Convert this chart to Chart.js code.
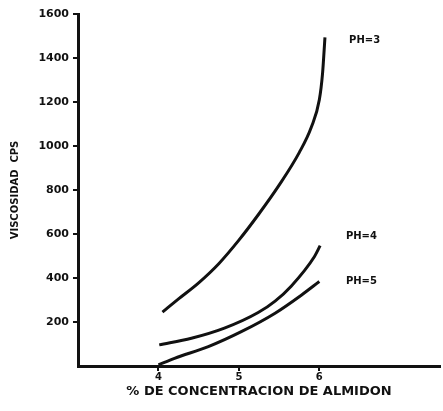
<!DOCTYPE html>
<html>
<head>
<meta charset="utf-8">
<script src="https://cdn.jsdelivr.net/npm/chart.js@4"></script>
<style>
  html, body { margin: 0; padding: 0; background: #fff; }
  #wrap { width: 443px; height: 411px; }
</style>
</head>
<body>
<div id="wrap"><canvas id="chart"></canvas></div>
<script>
// curve readings (% almidon vs viscosidad cps)
const ph3X = [4.05, 4.25, 4.5, 4.75, 5.0, 5.25, 5.5, 5.75, 5.9, 6.0, 6.04, 6.07];
const ph3Y = [245, 305, 378, 465, 572, 692, 822, 970, 1085, 1210, 1330, 1494];
const ph4X = [4.01, 4.41, 4.82, 5.24, 5.45, 5.65, 5.94, 6.01];
const ph4Y = [96, 126, 172, 243, 295, 363, 498, 547];
const ph5X = [4.0, 4.2, 4.62, 5.03, 5.45, 5.78, 6.0];
const ph5Y = [5, 35, 88, 156, 240, 323, 384];

const xTicks = [4, 5, 6];
const yTicks = [200, 400, 600, 800, 1000, 1200, 1400, 1600];

const curveNames = ['PH=3', 'PH=4', 'PH=5'];
const nameX = [6.37, 6.33, 6.33];
const nameY = [1480, 588, 383];

const toPoints = (xs, ys) => xs.map((x, i) => ({ x: x, y: ys[i] }));

const boldFont = 'DejaVu Sans';

// writes PH=... next to each curve
const curveLabels = {
    id: 'curveLabels',
    afterDatasetsDraw(chart) {
        const { ctx, scales } = chart;
        ctx.save();
        ctx.fillStyle = '#111';
        ctx.font = 'bold 10px "' + boldFont + '"';
        ctx.textBaseline = 'middle';
        ctx.textAlign = 'left';
        curveNames.forEach((name, i) => {
            ctx.fillText(name, scales.x.getPixelForValue(nameX[i]), scales.y.getPixelForValue(nameY[i]));
        });
        ctx.restore();
    }
};

const lineStyle = {
    borderColor: '#111',
    borderWidth: 3,
    pointRadius: 0,
    cubicInterpolationMode: 'monotone',
    fill: false
};

new Chart(document.getElementById('chart'), {
    type: 'line',
    data: {
        datasets: [
            { label: curveNames[0], data: toPoints(ph3X, ph3Y), ...lineStyle },
            { label: curveNames[1], data: toPoints(ph4X, ph4Y), ...lineStyle },
            { label: curveNames[2], data: toPoints(ph5X, ph5Y), ...lineStyle }
        ]
    },
    options: {
        responsive: true,
        maintainAspectRatio: false,
        animation: false,
        layout: { padding: { top: 14, right: 3, left: 0, bottom: 0 } },
        plugins: {
            legend: { display: false },
            tooltip: { enabled: false }
        },
        scales: {
            x: {
                type: 'linear',
                min: 3,
                max: 7.5,
                afterBuildTicks: (scale) => { scale.ticks = xTicks.map(v => ({ value: v })); },
                afterFit: (scale) => { scale.height = 45; },
                border: { display: true, color: '#111', width: 3 },
                grid: { drawOnChartArea: false, color: '#111', tickColor: '#111', tickLength: 5, lineWidth: 2 },
                ticks: {
                    color: '#111',
                    padding: 0,
                    maxRotation: 0,
                    font: { family: boldFont, size: 10, weight: 'bold' },
                    callback: (v) => String(v)
                },
                title: {
                    display: true,
                    text: '% DE CONCENTRACION DE ALMIDON',
                    color: '#111',
                    font: { family: boldFont, size: 13, weight: 'bold' },
                    padding: { top: 0, bottom: 12 }
                }
            },
            y: {
                min: 0,
                max: 1600,
                afterBuildTicks: (scale) => { scale.ticks = yTicks.map(v => ({ value: v })); },
                afterFit: (scale) => { scale.width = 78; },
                border: { display: true, color: '#111', width: 3 },
                grid: { drawOnChartArea: false, color: '#111', tickColor: '#111', tickLength: 5, lineWidth: 2 },
                ticks: {
                    color: '#111',
                    padding: 4,
                    font: { family: boldFont, size: 11, weight: 'bold' },
                    callback: (v) => String(v)
                },
                title: {
                    display: true,
                    text: 'VISCOSIDAD  CPS',
                    color: '#111',
                    font: { family: boldFont, size: 10, weight: 'bold' },
                    padding: { top: 9, bottom: 0 }
                }
            }
        }
    },
    plugins: [curveLabels]
});
</script>
</body>
</html>
